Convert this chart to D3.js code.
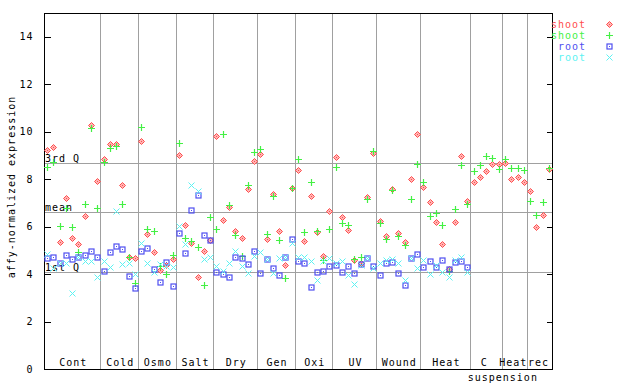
<!DOCTYPE html>
<html>
<head>
<meta charset="utf-8">
<script src="https://d3js.org/d3.v7.min.js"></script>
<style>
  body { margin: 0; background: #fff; }
  text { font-family: "DejaVu Sans Mono", monospace; font-size: 10px; letter-spacing: 1px; }
</style>
</head>
<body>
<div id="chart"></div>
<script>
// conditions and how many samples each one has
var groups = ["Cont", "Cold", "Osmo", "Salt", "Dry", "Gen", "Oxi", "UV", "Wound", "Heat", "C suspension", "Heat", "rec"];
var groupSizes = [9, 6, 6, 6, 7, 6, 6, 7, 7, 8, 5, 4, 4];

// shoot, replicate 1 (red) and 2 (green)
var shoot1 = [9.22, 9.36, 5.35, 7.20, 5.53, 5.26, 6.43, 10.30, 7.94,
  8.86, 9.50, 9.46, 7.75, 4.74, 4.67,
  9.61, 5.68, 4.92, 4.16, 4.40, 4.62,
  9.03, 6.06, 5.30, 3.87, 4.97, 5.45,
  9.82, 6.29, 6.82, 5.83, 5.52, 7.58, 8.77,
  9.06, 5.47, 7.37, 5.81, 4.38, 7.63,
  8.39, 5.39, 7.29, 5.77, 4.77, 6.67,
  8.93, 6.40, 5.85, 4.59, 4.46, 7.25, 9.12,
  6.23, 5.61, 7.58, 5.73, 5.35, 8.01, 9.91,
  7.67, 7.04, 6.19, 5.26, 4.21, 6.19, 8.98, 7.09,
  7.90, 8.09, 8.33, 8.64, 8.64,
  8.66, 8.01, 8.08, 7.86,
  7.48, 5.98, 6.49, 8.44];
var shoot2 = [8.51, 8.71, 6.02, 6.78, 5.98, 4.92, 6.95, 10.16, 6.78,
  8.72, 9.32, 9.39, 6.95, 4.70, 3.61,
  10.20, 5.91, 5.81, 4.35, 4.00, 4.80,
  9.53, 5.52, 5.39, 5.14, 3.53, 6.40,
  5.90, 9.91, 6.91, 5.64, 4.76, 7.75, 9.15,
  9.27, 5.68, 7.29, 5.43, 3.83, 7.63,
  8.85, 5.77, 7.88, 5.81, 4.59, 5.90,
  8.51, 6.15, 6.06, 4.63, 4.71, 7.16, 9.19,
  6.15, 5.47, 7.54, 5.60, 5.22, 7.16, 8.64,
  7.88, 6.44, 6.57, 6.06, 4.12, 6.74, 8.60, 6.95,
  8.33, 8.61, 8.99, 8.89, 8.43,
  8.86, 8.47, 8.47, 8.37,
  7.09, 6.49, 7.04, 8.47];

// root, replicate 1 (blue) and 2 (cyan) - no root samples after Heat
var root1 = [4.66, 4.74, 4.45, 4.80, 4.63, 4.71, 4.80, 4.97, 4.71,
  4.12, 4.94, 5.18, 5.05, 3.91, 3.40,
  4.97, 5.09, 4.21, 3.66, 4.50, 3.49,
  5.73, 4.88, 6.70, 7.33, 5.64, 5.45,
  4.08, 4.00, 3.87, 4.71, 4.67, 4.42, 4.97,
  4.04, 4.63, 4.25, 3.95, 4.71, 5.47,
  4.54, 4.46, 3.45, 4.08, 4.12, 4.33,
  4.38, 4.08, 4.33, 4.04, 4.42, 4.67, 4.33,
  3.95, 4.46, 4.50, 4.04, 3.53, 4.67, 4.84,
  4.29, 4.54, 4.29, 4.59, 4.21, 4.50, 4.54, 4.29];
var root2 = [4.85, 4.26, 4.46, 4.46, 3.19, 4.74, 4.53, 4.57, 3.87,
  4.53, 4.28, 6.64, 4.42, 4.46, 4.00,
  5.30, 4.46, 4.08, 4.43, 4.34, 4.29,
  6.02, 5.26, 7.75, 7.50, 4.63, 4.71,
  4.33, 4.12, 4.46, 4.97, 4.33, 4.04, 4.76,
  4.92, 4.63, 4.04, 4.67, 4.71, 5.30,
  4.71, 4.71, 4.54, 3.74, 4.54, 4.67,
  4.45, 4.55, 3.95, 3.57, 4.38, 4.67, 4.25,
  4.46, 4.60, 4.63, 4.46, 3.74, 4.67, 4.25,
  4.59, 4.00, 4.38, 4.08, 3.87, 4.60, 4.71, 4.08];

// reference lines
var refLines = [{label: "3rd Q", v: 8.68}, {label: "mean", v: 6.61}, {label: "1st Q", v: 4.08}];
var yTicks = [0, 2, 4, 6, 8, 10, 12, 14];

var series = [
  {name: "shoot", data: shoot1, color: "#ff4d4d", mark: "diamond"},
  {name: "shoot", data: shoot2, color: "#44f044", mark: "plus"},
  {name: "root", data: root1, color: "#4f4ff0", mark: "square"},
  {name: "root", data: root2, color: "#5cf2f2", mark: "cross"}
];

var W = 640, H = 384;
var mLeft = 44, mRight = 552, mTop = 13, mBottom = 369;
var nSamples = d3.sum(groupSizes);

var svg = d3.select("#chart").append("svg")
  .attr("width", W).attr("height", H)
  .style("background", "#fff");

var x = d3.scaleLinear().domain([0, nSamples]).range([mLeft, mRight]);
var y = d3.scaleLinear().domain([0, 15]).range([mBottom, mTop]);

var grid = svg.append("g").attr("shape-rendering", "crispEdges")
  .attr("stroke", "#a0a0a0").attr("stroke-width", 1);

// group separators
var cum = 0, bounds = [];
groupSizes.forEach(function(n) { bounds.push([cum, cum + n]); cum += n; });
grid.selectAll("line.sep")
  .data(bounds.slice(0, -1))
  .enter().append("line")
  .attr("x1", function(d) { return Math.round(x(d[1])) + 0.5; })
  .attr("x2", function(d) { return Math.round(x(d[1])) + 0.5; })
  .attr("y1", mTop).attr("y2", mBottom);

// quartile / mean lines
grid.selectAll("line.ref")
  .data(refLines)
  .enter().append("line")
  .attr("x1", mLeft).attr("x2", mRight)
  .attr("y1", function(d) { return Math.round(y(d.v)) + 0.5; })
  .attr("y2", function(d) { return Math.round(y(d.v)) + 0.5; });

svg.selectAll("text.ref")
  .data(refLines)
  .enter().append("text")
  .attr("x", mLeft + 1)
  .attr("y", function(d) { return Math.round(y(d.v)) - 1; })
  .attr("fill", "#000")
  .text(function(d) { return d.label; });

// axes: inward ticks both sides
var yAxisL = svg.append("g")
  .attr("transform", "translate(" + (mLeft + 0.5) + ",0)")
  .call(d3.axisLeft(y).tickValues(yTicks).tickSizeInner(-6).tickSizeOuter(0).tickPadding(11).tickFormat(d3.format("d")));
var yAxisR = svg.append("g")
  .attr("transform", "translate(" + (mRight + 0.5) + ",0)")
  .call(d3.axisRight(y).tickValues(yTicks).tickSizeInner(-6).tickSizeOuter(0).tickFormat(""));
[yAxisL, yAxisR].forEach(function(a) {
  a.select(".domain").remove();
  a.selectAll("line").attr("shape-rendering", "crispEdges").attr("stroke", "#000");
  a.selectAll("text").attr("font-family", null).attr("font-size", null).attr("fill", "#000");
});

// frame
svg.append("rect")
  .attr("x", mLeft + 0.5).attr("y", mTop + 0.5)
  .attr("width", mRight - mLeft).attr("height", mBottom - mTop)
  .attr("fill", "none").attr("stroke", "#000")
  .attr("shape-rendering", "crispEdges");

// group labels (narrow groups nudged left so they clear the separator)
bounds.forEach(function(b, i) {
  var cx = x((b[0] + b[1]) / 2);
  var words = groups[i].split(" ");
  if (words.length > 1) {
    svg.append("text").attr("x", cx - 2).attr("y", 366).attr("text-anchor", "middle").text(words[0]);
    svg.append("text").attr("x", x(b[1]) + 1).attr("y", 381).attr("text-anchor", "middle").text(words.slice(1).join(" "));
  } else {
    var dx = (b[1] - b[0]) <= 4 ? -1 : 1;
    svg.append("text").attr("x", cx + dx).attr("y", 366).attr("text-anchor", "middle").text(groups[i]);
  }
});

// y title
svg.append("text")
  .attr("transform", "translate(15,187) rotate(-90)")
  .attr("text-anchor", "middle")
  .text("affy-normalized expression");

// marker drawing
function drawMark(g, type, color) {
  if (type == "diamond") {
    g.append("path").attr("d", "M0,-3L3,0L0,3L-3,0Z").attr("fill", "#ffb4b4").attr("stroke", color).attr("stroke-width", 1);
    g.append("rect").attr("x", -0.5).attr("y", -0.5).attr("width", 1).attr("height", 1).attr("fill", color);
  } else if (type == "plus") {
    g.append("path").attr("d", "M-3.5,0H3.5M0,-3.5V3.5").attr("stroke", color).attr("stroke-width", 1.2);
  } else if (type == "square") {
    g.append("rect").attr("x", -2.5).attr("y", -2.5).attr("width", 5).attr("height", 5)
      .attr("fill", "none").attr("stroke", color).attr("stroke-width", 1.2);
    g.append("rect").attr("x", -0.5).attr("y", -0.5).attr("width", 1).attr("height", 1).attr("fill", color);
  } else {
    g.append("path").attr("d", "M-3,-3L3,3M-3,3L3,-3").attr("stroke", color).attr("stroke-width", 1);
  }
}

series.forEach(function(s) {
  var g = svg.append("g");
  s.data.forEach(function(v, i) {
    if (v == null) return;
    var px = Math.round(x(i + 0.5)) + 0.5, py = Math.round(y(v)) + 0.5;
    drawMark(g.append("g").attr("transform", "translate(" + px + "," + py + ")"), s.mark, s.color);
  });
});

// legend
series.forEach(function(s, i) {
  var ly = 24.5 + i * 11;
  svg.append("text").attr("x", 586).attr("y", ly + 3.5)
    .attr("text-anchor", "end").attr("fill", s.color).text(s.name);
  drawMark(svg.append("g").attr("transform", "translate(609.5," + ly + ")"), s.mark, s.color);
});
</script>
</body>
</html>
